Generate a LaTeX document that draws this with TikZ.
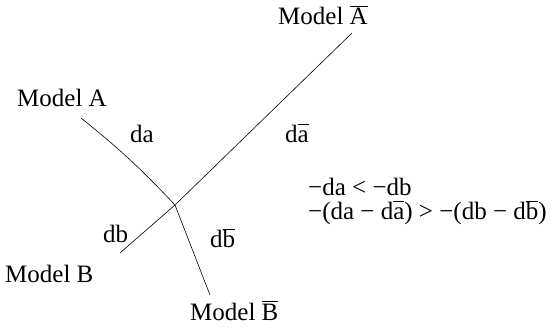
\documentclass[tikz,border=0pt]{standalone}
\usepackage{fontspec}
\setmainfont{Liberation Serif}
\usepackage{tikz}
\usetikzlibrary{positioning}
\newcommand{\ovl}[1]{$\overline{\mbox{#1\rule{0pt}{0.7em}}}$}

\begin{document}
\begin{tikzpicture}[
      x=1pt, y=-1pt,
      font=\fontsize{25}{29}\selectfont,
      model/.style={inner sep=0pt, anchor=base west},
      dist/.style={inner sep=0pt, anchor=base west},
      branch/.style={line width=0.6pt, black}
    ]
    \useasboundingbox (0,0) rectangle (556,328);

    % end points of the two branches
    \coordinate (jct)  at (175,205);
    \coordinate (endA) at (81,118);
    \coordinate (endAbar) at (352,33);
    \coordinate (endB) at (120,253);
    \coordinate (endBbar) at (210,295);

    \node[model] (modA) at (17,107) {Model A};
    \node[model] (modAbar) at (278,25) {Model \ovl{A}};
    \node[model] (modB) at (5,283) {Model B};
    \node[model] (modBbar) at (190,320) {Model \ovl{B}};

    \node[dist] (da) at (130,143) {da};
    \node[dist] (dabar) at (285,143) {d\ovl{a}};
    \node[dist] (db) at (103,243) {db};
    \node[dist] (dbbar) at (210,248) {d\ovl{b}};

    \node[dist] (ineq1) at (308,196) {−da < −db};
    \node[dist] (ineq2) at (308,220) {−(da − d\ovl{a}) > −(db − d\ovl{b})};

    \draw[branch] (endA) to[bend left=4] (jct) -- (endBbar);
    \draw[branch] (endAbar) -- (jct) -- (endB);

  \end{tikzpicture}
\end{document}
